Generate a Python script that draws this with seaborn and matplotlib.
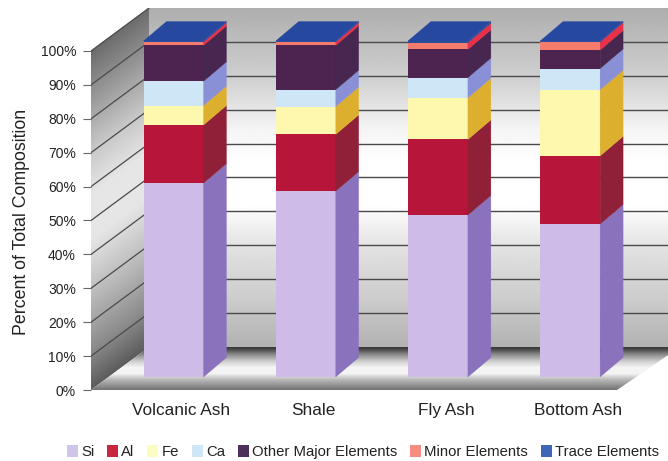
import numpy as np
import matplotlib
matplotlib.use("Agg")
import matplotlib.pyplot as plt
from matplotlib.patches import Patch, Polygon
import seaborn as sns

# Composition of each material, percent of total
materials = ["Volcanic Ash", "Shale", "Fly Ash", "Bottom Ash"]
elements = ["Si", "Al", "Fe", "Ca", "Other Major Elements", "Minor Elements", "Trace Elements"]
si = [57.7, 55.3, 48.2, 45.5]
al = [17.3, 16.9, 22.5, 20.3]
fe = [5.8, 8.3, 12.4, 19.7]
ca = [7.2, 5.0, 6.0, 6.3]
other_major = [10.7, 13.2, 8.4, 5.5]
minor = [1.0, 1.0, 2.0, 2.4]
trace = [0.3, 0.3, 0.5, 0.3]
series = [si, al, fe, ca, other_major, minor, trace]

front_colors = ["#cfbbe8", "#b8153a", "#fdf8ae", "#cfe6f6", "#4d2350", "#f47c6c", "#2a4da0"]
side_colors = ["#8a72bd", "#8f2038", "#dcb02e", "#8a90d6", "#47264f", "#e83048", "#2a4da0"]
legend_colors = ["#cfc4ea", "#c8283f", "#fbfbc4", "#cfe6f6", "#4d2f5c", "#f58e80", "#3d68b8"]
top_color = "#26489e"

sns.set_theme(style="white")
plt.rcParams["font.family"] = ["Liberation Sans", "DejaVu Sans"]
text_color = "#222222"

W, H = 668, 461
fig = plt.figure(figsize=(W / 100, H / 100), dpi=100, facecolor="white")
# Axes span from the front floor edge up to the top of the back wall
L, R, T, B = 91, 668, 8, 390
ax = fig.add_axes([L / W, 1 - B / H, (R - L) / W, (B - T) / H])


# Helpers turning canvas offsets into data units for the box and the bar depth
def dx(px):
    return (px - 173.5) / 132.2


def dy(py):
    return (377 - py) / 3.36


depth_x = 23 / 132.2
depth_y = 19.5 / 3.36
bar_width = 60 / 132.2

ax.set_xlim(dx(L), dx(R))
ax.set_ylim(dy(B), dy(T))


def shaded(poly, stops, coord):
    """Fill a polygon with a gray ramp; coord(px, py) gives the ramp position."""
    xs = np.arange(0, W + 1)
    ys = np.arange(0, H + 1)
    X, Y = np.meshgrid(xs, ys)
    pos, val = zip(*stops)
    img = np.interp(coord(X, Y), pos, val)
    im = ax.imshow(img, cmap="gray", vmin=0, vmax=1, aspect="auto", zorder=0.5,
                   extent=(dx(0), dx(W), dy(H), dy(0)), origin="upper",
                   interpolation="bilinear")
    patch = Polygon([(dx(a), dy(b)) for a, b in poly], transform=ax.transData,
                    facecolor="none", edgecolor="none")
    ax.add_patch(patch)
    im.set_clip_path(patch)


# Back wall
shaded([(149, 8), (680, 8), (680, 348), (149, 348)],
       [(8, .68), (40, .74), (80, .82), (130, .96), (165, 1), (205, 1),
        (250, .88), (300, .80), (345, .70)],
       lambda x, y: y)
# Left wall, shaded along its receding direction
shaded([(91, 51), (149, 8), (149, 347), (91, 390)],
       [(51, .42), (100, .60), (150, .78), (195, .90), (240, .90), (300, .72),
        (350, .55), (390, .36)],
       lambda x, y: y + (x - 91) * 43 / 58)
# Floor
shaded([(91, 390), (149, 347), (680, 347), (617, 390)],
       [(347, .20), (350, .30), (355, .55), (362, .82), (368, .96), (374, .95),
        (380, .72), (386, .56), (390, .46)],
       lambda x, y: y)

# Grid lines along the left wall and the back wall
grid_color = "#4a4a4a"
for pct in range(0, 101, 10):
    front = 390 - 3.39 * pct
    back = front - 43
    if pct > 0:
        ax.plot([dx(91), dx(149)], [dy(front), dy(back)], color=grid_color, lw=0.9, zorder=1)
    if 0 < pct < 100:
        ax.plot([dx(149), dx(R)], [dy(back), dy(back)], color=grid_color, lw=1.0, zorder=1)

# Stacked front faces
bottoms = np.zeros(len(materials))
for values, face in zip(series, front_colors):
    sns.barplot(x=materials, y=values, bottom=bottoms, color=face, saturation=1,
                width=bar_width, linewidth=0, ax=ax, zorder=3)
    bottoms = bottoms + np.array(values)

# Side faces and the top face give each stack its depth
for i in range(len(materials)):
    right = i + bar_width / 2
    left = i - bar_width / 2
    base = 0.0
    for values, side in zip(series, side_colors):
        top = base + values[i]
        ax.add_patch(Polygon([(right, base), (right, top),
                              (right + depth_x, top + depth_y),
                              (right + depth_x, base + depth_y)],
                             facecolor=side, edgecolor=side, lw=0.2, zorder=3))
        base = top
    ax.add_patch(Polygon([(left, base), (right, base),
                          (right + depth_x, base + depth_y),
                          (left + depth_x, base + depth_y)],
                         facecolor=top_color, edgecolor=top_color, lw=0.2, zorder=3))

ax.set_xlim(dx(L), dx(R))
ax.set_ylim(dy(B), dy(T))

# The value axis belongs to the front edge of the left wall
percent_ticks = list(range(0, 101, 10))
ax.set_yticks([dy(390 - 3.39 * p) for p in percent_ticks])
ax.set_yticklabels([f"{p}%" for p in percent_ticks], fontsize=10, color=text_color)
ax.tick_params(axis="y", left=True, length=5.8, width=0.8, color="#666666", pad=5)
ax.set_xticks(np.arange(len(materials)) + 8 / 132.2)
ax.set_xticklabels(materials, fontsize=12.4, color=text_color)
ax.tick_params(axis="x", bottom=False, pad=3.5)
ax.set_ylabel("Percent of Total Composition", fontsize=12.8, color=text_color)
ax.yaxis.set_label_coords((30 - L) / (R - L), (B - 222) / (B - T))
ax.set_xlabel("")
ax.grid(False)
for spine in ax.spines.values():
    spine.set_visible(False)

handles = [Patch(facecolor=c, edgecolor="none", label=n) for c, n in zip(legend_colors, elements)]
fig.legend(handles=handles, loc="center", bbox_to_anchor=(363 / W, 1 - 452 / H), ncol=7,
           frameon=False, fontsize=10.7, labelcolor=text_color, handlelength=0.75,
           handleheight=0.8, handletextpad=0.22, columnspacing=0.85, borderpad=0)

fig.savefig("out.png", dpi=100, facecolor="white")
